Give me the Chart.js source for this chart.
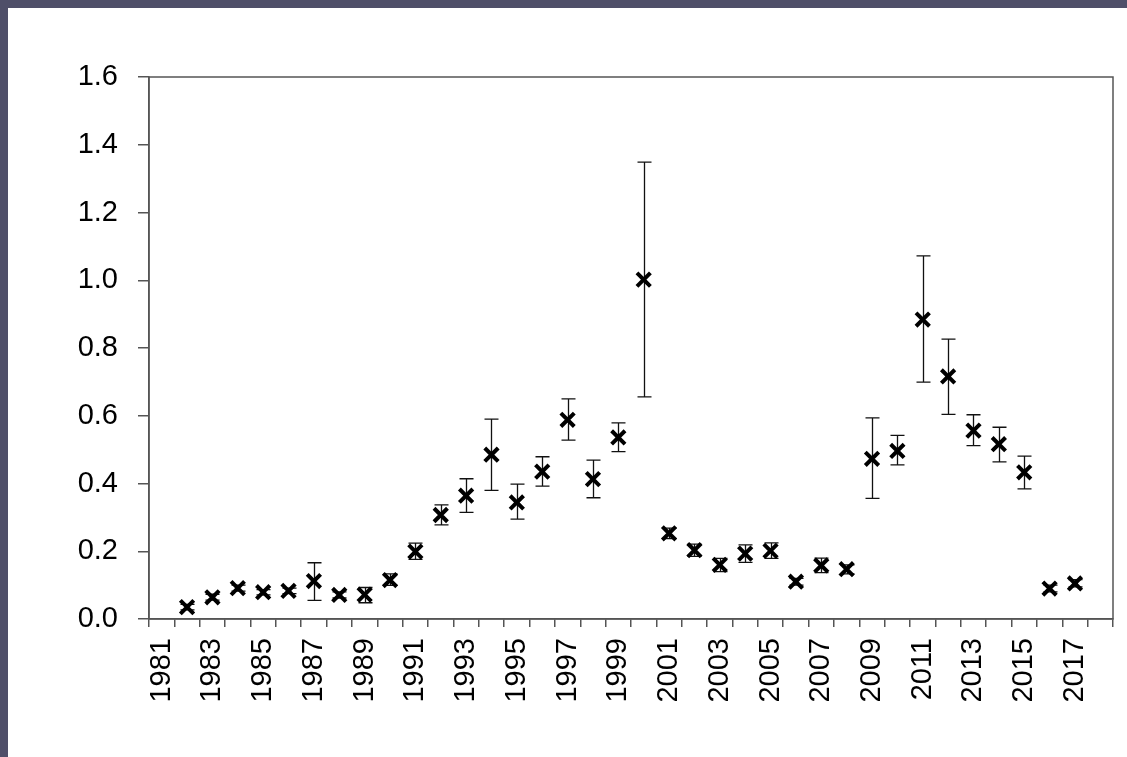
<!DOCTYPE html>
<html>
<head>
<meta charset="utf-8">
<script src="https://cdn.jsdelivr.net/npm/chart.js@4.4.0/dist/chart.umd.min.js"></script>
<style>
  html, body { margin: 0; padding: 0; background: #4f4f69; }
  #wrap { position: absolute; left: 8px; top: 8px; width: 1119px; height: 749px; background: #fff; }
</style>
</head>
<body>
<div id="wrap"><canvas id="chart" width="1119" height="749"></canvas></div>
<script>
// years on the x axis (1981 and 2018 have no sample)
const years = [];
for (let y = 1981; y <= 2018; y++) years.push(String(y));

// mean value per year
const means = [null, 0.035, 0.064, 0.091, 0.079, 0.083, 0.112, 0.071, 0.072, 0.115,
  0.199, 0.307, 0.364, 0.485, 0.344, 0.435, 0.588, 0.413, 0.536, 1.002,
  0.253, 0.203, 0.160, 0.193, 0.201, 0.110, 0.158, 0.147, 0.473, 0.496,
  0.884, 0.716, 0.556, 0.516, 0.433, 0.090, 0.105, null];

// error bar ends
const lower = [null, 0.027, 0.056, 0.082, 0.071, 0.075, 0.055, 0.062, 0.048, 0.099,
  0.176, 0.278, 0.315, 0.380, 0.295, 0.392, 0.528, 0.358, 0.494, 0.656,
  0.237, 0.185, 0.140, 0.167, 0.179, 0.100, 0.137, 0.133, 0.356, 0.455,
  0.699, 0.604, 0.512, 0.464, 0.384, 0.080, 0.095, null];
const upper = [null, 0.043, 0.073, 0.100, 0.087, 0.091, 0.166, 0.080, 0.093, 0.133,
  0.224, 0.337, 0.414, 0.590, 0.398, 0.479, 0.650, 0.469, 0.579, 1.349,
  0.268, 0.221, 0.179, 0.219, 0.225, 0.120, 0.180, 0.160, 0.594, 0.542,
  1.072, 0.826, 0.603, 0.566, 0.481, 0.100, 0.116, null];

const yTicks = [0, 0.2, 0.4, 0.6, 0.8, 1.0, 1.2, 1.4, 1.6];

const axisColor = '#555';
const font = { family: '"Liberation Sans", Arial, sans-serif', size: 29 };

// error bars, drawn under the markers
const errorBars = {
  id: 'errorBars',
  beforeDatasetsDraw(chart) {
    const ctx = chart.ctx, xs = chart.scales.x, ys = chart.scales.y;
    ctx.save();
    ctx.strokeStyle = '#111';
    ctx.lineWidth = 1.3;
    for (let i = 0; i < years.length; i++) {
      if (means[i] == null) continue;
      const x = Math.round(xs.getPixelForValue(i)) + 0.5;
      const y1 = ys.getPixelForValue(lower[i]);
      const y2 = ys.getPixelForValue(upper[i]);
      ctx.beginPath();
      ctx.moveTo(x, y1); ctx.lineTo(x, y2);
      ctx.moveTo(x - 7, y1); ctx.lineTo(x + 7, y1);
      ctx.moveTo(x - 7, y2); ctx.lineTo(x + 7, y2);
      ctx.stroke();
    }
    ctx.restore();
  }
};

// closed box round the plot
const frame = {
  id: 'frame',
  afterDraw(chart) {
    const a = chart.chartArea, ctx = chart.ctx;
    ctx.save();
    ctx.strokeStyle = axisColor;
    ctx.lineWidth = 1.5;
    ctx.strokeRect(a.left, a.top, a.right - a.left, a.bottom - a.top);
    ctx.restore();
  }
};

new Chart(document.getElementById('chart'), {
  type: 'line',
  data: {
    labels: years,
    datasets: [{
      data: means,
      showLine: false,
      pointStyle: 'crossRot',
      pointRadius: 9.5,
      pointBorderWidth: 4,
      pointBorderColor: '#000',
      pointBackgroundColor: '#000'
    }]
  },
  options: {
    responsive: false,
    animation: false,
    layout: { padding: { top: 69, right: 14, left: 0, bottom: 0 } },
    plugins: { legend: { display: false }, tooltip: { enabled: false } },
    scales: {
      x: {
        offset: true,
        grid: { offset: true, drawOnChartArea: false, drawTicks: true, tickLength: 8, color: axisColor, lineWidth: 1.5 },
        border: { color: axisColor, width: 1.5 },
        ticks: {
          autoSkip: false, minRotation: 90, maxRotation: 90, padding: 11,
          color: '#000', font: font,
          callback: (v, i) => (parseInt(years[i]) % 2 === 1 ? years[i] : '')
        },
        afterFit: s => { s.height = 138; s.paddingLeft = 0; s.paddingRight = 0; }
      },
      y: {
        min: 0, max: 1.6,
        afterBuildTicks: s => { s.ticks = yTicks.map(v => ({ value: v })); },
        grid: { drawOnChartArea: false, drawTicks: true, tickLength: 11, color: axisColor, lineWidth: 1.5 },
        border: { color: axisColor, width: 1.5 },
        ticks: { padding: 20, color: '#000', font: font, callback: v => v.toFixed(1) },
        afterFit: s => { s.width = 141; }
      }
    }
  },
  plugins: [errorBars, frame]
});
</script>
</body>
</html>
